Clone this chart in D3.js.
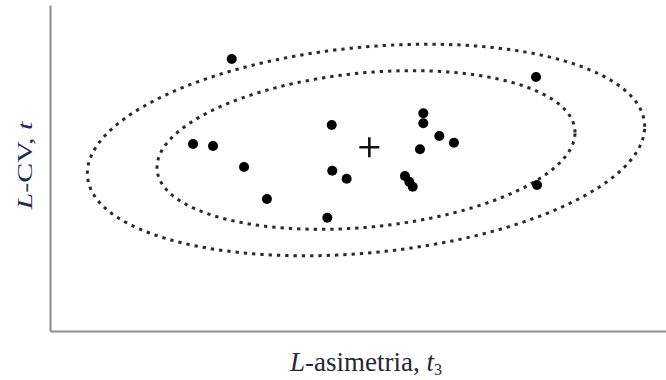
<!DOCTYPE html>
<html>
<head>
<meta charset="utf-8">
<script src="https://cdn.jsdelivr.net/npm/d3@7"></script>
<style>
  html, body { margin: 0; padding: 0; background: #fff; }
  svg { display: block; }
</style>
</head>
<body>
<div id="chart"></div>
<script>
// Site L-moment ratios: L-skewness (t3) and L-CV (t)
const siteT3 = [0.1475, 0.1161, 0.1323, 0.1575, 0.1761, 0.2287, 0.2291, 0.2408, 0.2251,
                0.3030, 0.3030, 0.3160, 0.3279, 0.3003, 0.2881, 0.2916, 0.2944, 0.3945, 0.3953];
const siteT  = [0.3337, 0.2294, 0.2270, 0.2012, 0.1620, 0.2528, 0.1967, 0.1869, 0.1390,
                0.2671, 0.2548, 0.2393, 0.2310, 0.2229, 0.1902, 0.1832, 0.1771, 0.3117, 0.1791];

// Regional average (t3, t)
const regionalMean = [0.2592, 0.2254];

// Bivariate-normal ellipses: centre, standard deviations, correlation and levels
const ellipseCenter = [0.2565, 0.2221];
const ellipseSd = [0.1131, 0.0649];
const ellipseCorr = 0.22;
const ellipseLevels = [1.5, 2.0];

const xDomain = [0, 0.5];
const yDomain = [0, 0.4];

const W = 666, H = 380;
const svg = d3.select("#chart").append("svg")
  .attr("width", W).attr("height", H);

const x = d3.scaleLinear().domain(xDomain).range([50, 666]);
const y = d3.scaleLinear().domain(yDomain).range([331, 5]);

// Axes without ticks
const axisColor = "#8c8c8c";
const gx = svg.append("g").attr("transform", `translate(0,${y(yDomain[0])})`)
  .call(d3.axisBottom(x).ticks(0).tickSizeOuter(0));
const gy = svg.append("g").attr("transform", `translate(${x(xDomain[0])},0)`)
  .call(d3.axisLeft(y).ticks(0).tickSizeOuter(0));
[gx, gy].forEach(g => g.select(".domain").attr("stroke", axisColor).attr("stroke-width", 2));

// Ellipse outlines
const nSeg = 360;
const phis = d3.range(nSeg).map(i => 2 * Math.PI * i / nSeg);
const line = d3.line().curve(d3.curveLinearClosed)
  .x(p => x(p[0])).y(p => y(p[1]));
ellipseLevels.forEach(k => {
  const pts = phis.map(phi => [
    ellipseCenter[0] + k * ellipseSd[0] * Math.cos(phi),
    ellipseCenter[1] + k * ellipseSd[1] *
      (ellipseCorr * Math.cos(phi) + Math.sqrt(1 - ellipseCorr * ellipseCorr) * Math.sin(phi))
  ]);
  svg.append("path")
    .attr("d", line(pts))
    .attr("fill", "none")
    .attr("stroke", "#2a2a2a")
    .attr("stroke-width", 3)
    .attr("stroke-dasharray", "3.3 5");
});

// Site points
svg.append("g").selectAll("circle")
  .data(d3.zip(siteT3, siteT))
  .join("circle")
  .attr("cx", d => x(d[0]))
  .attr("cy", d => y(d[1]))
  .attr("r", 5)
  .attr("fill", "#000");

// Regional average marker
const mx = x(regionalMean[0]), my = y(regionalMean[1]);
svg.append("path")
  .attr("d", `M${mx - 10},${my}H${mx + 10}M${mx},${my - 10}V${my + 10}`)
  .attr("stroke", "#111")
  .attr("stroke-width", 2.6)
  .attr("fill", "none");

// Axis titles
const xt = svg.append("text")
  .attr("x", 366).attr("y", 371)
  .attr("text-anchor", "middle")
  .attr("font-family", "'Liberation Serif', 'Times New Roman', serif")
  .attr("font-size", 27)
  .attr("fill", "#262833");
xt.append("tspan").attr("font-style", "italic").text("L");
xt.append("tspan").text("-asimetria, ");
xt.append("tspan").attr("font-style", "italic").text("t");
xt.append("tspan").attr("font-size", 16).attr("dy", 4).text("3");

const yt = svg.append("text")
  .attr("transform", "translate(32,165.5) rotate(-90)")
  .attr("text-anchor", "middle")
  .attr("font-family", "'Liberation Serif', 'Times New Roman', serif")
  .attr("font-size", 22)
  .attr("textLength", 88)
  .attr("lengthAdjust", "spacingAndGlyphs")
  .attr("fill", "#1d2c58");
yt.append("tspan").attr("font-style", "italic").text("L");
yt.append("tspan").text("-CV, ");
yt.append("tspan").attr("font-style", "italic").text("t");
</script>
</body>
</html>
